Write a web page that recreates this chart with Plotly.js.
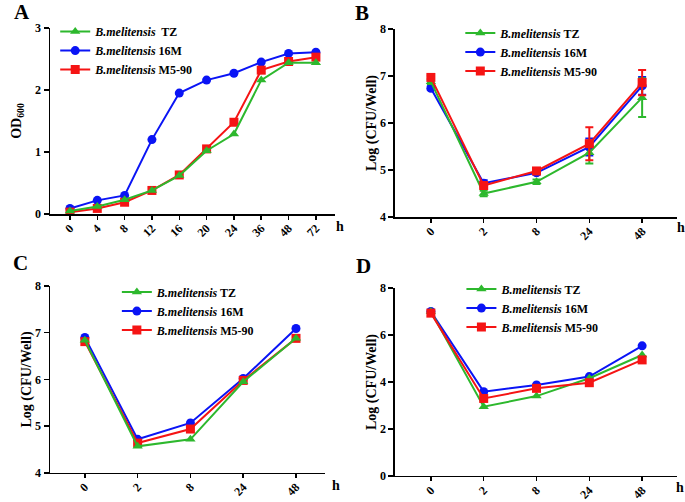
<!DOCTYPE html>
<html>
<head>
<meta charset="utf-8">
<script src="https://cdn.plot.ly/plotly-3.0.1.min.js"></script>
<style>
  html, body { margin: 0; padding: 0; background: #fff; }
  #plotArea { width: 685px; height: 502px; }
</style>
</head>
<body>
<div id="plotArea"></div>
<script>
// strain names + colours
var strainNames = ["<i>B.melitensis</i> TZ", "<i>B.melitensis</i> 16M", "<i>B.melitensis</i> M5-90"];
var strainNamesA = ["<i>B.melitensis</i>  TZ", "<i>B.melitensis</i> 16M", "<i>B.melitensis</i> M5-90"];

// panel A - growth curve (OD600)
var hoursA = ["0", "4", "8", "12", "16", "20", "24", "36", "48", "72"];
var odTZ   = [0.05, 0.12, 0.23, 0.38, 0.62, 1.02, 1.29, 2.16, 2.44, 2.44];
var od16M  = [0.09, 0.22, 0.30, 1.20, 1.95, 2.16, 2.27, 2.45, 2.59, 2.61];
var odM590 = [0.03, 0.09, 0.19, 0.38, 0.63, 1.05, 1.48, 2.32, 2.46, 2.53];

// panels B, C, D - survival (log CFU/well)
var hoursBCD = ["0", "2", "8", "24", "48"];

var bTZ   = [6.88, 4.50, 4.75, 5.37, 6.54];
var b16M  = [6.74, 4.72, 4.94, 5.49, 6.79];
var bM590 = [6.97, 4.67, 4.98, 5.56, 6.86];
var bErrTZ   = [0.05, 0.06, 0.05, 0.23, 0.41];
var bErr16M  = [0.04, 0.06, 0.04, 0.18, 0.19];
var bErrM590 = [0.04, 0.05, 0.05, 0.35, 0.27];

var cTZ   = [6.84, 4.57, 4.72, 5.95, 6.88];
var c16M  = [6.90, 4.72, 5.07, 6.02, 7.09];
var cM590 = [6.81, 4.64, 4.94, 5.98, 6.88];

var dTZ   = [7.00, 2.95, 3.40, 4.16, 5.15];
var d16M  = [7.00, 3.59, 3.87, 4.23, 5.54];
var dM590 = [6.93, 3.30, 3.73, 3.97, 4.94];

var green = "#2DB82D", blue = "#0A14F5", red = "#F51414";
var serif = "Liberation Serif, Times New Roman, serif";

function line(x, y, name, color, symbol, xa, ya, leg, rank, err) {
    var t = {
        x: x, y: y, name: name,
        xaxis: xa, yaxis: ya, legend: leg, legendrank: rank,
        type: "scatter", mode: "lines+markers",
        line: {color: color, width: 2},
        marker: {color: color, symbol: symbol, size: 9}
    };
    if (err) {
        t.error_y = {type: "data", array: err, visible: true, color: color, thickness: 2, width: 4};
    }
    return t;
}

var data = [
    // draw order: blue, red, green on top
    line(hoursA, od16M, strainNamesA[1], blue, "circle", "x", "y", "legend", 2),
    line(hoursA, odM590, strainNamesA[2], red, "square", "x", "y", "legend", 3),
    line(hoursA, odTZ, strainNamesA[0], green, "triangle-up", "x", "y", "legend", 1),

    line(hoursBCD, b16M, strainNames[1], blue, "circle", "x2", "y2", "legend2", 2, bErr16M),
    line(hoursBCD, bTZ, strainNames[0], green, "triangle-up", "x2", "y2", "legend2", 1, bErrTZ),
    line(hoursBCD, bM590, strainNames[2], red, "square", "x2", "y2", "legend2", 3, bErrM590),

    line(hoursBCD, c16M, strainNames[1], blue, "circle", "x3", "y3", "legend3", 2),
    line(hoursBCD, cM590, strainNames[2], red, "square", "x3", "y3", "legend3", 3),
    line(hoursBCD, cTZ, strainNames[0], green, "triangle-up", "x3", "y3", "legend3", 1),

    line(hoursBCD, d16M, strainNames[1], blue, "circle", "x4", "y4", "legend4", 2),
    line(hoursBCD, dTZ, strainNames[0], green, "triangle-up", "x4", "y4", "legend4", 1),
    line(hoursBCD, dM590, strainNames[2], red, "square", "x4", "y4", "legend4", 3)
];

var tickFont = {family: serif, size: 12, color: "#000", weight: "bold"};
var titleFont = {family: serif, size: 14, color: "#000", weight: "bold"};

function xAxis(domain, range, anchor) {
    return {
        type: "category", domain: domain, range: range, anchor: anchor,
        showline: true, linecolor: "#000", linewidth: 1.5,
        ticks: "outside", ticklen: 4, tickwidth: 1.5, tickcolor: "#000",
        tickangle: -45, tickfont: tickFont, ticklabelstandoff: -3,
        showgrid: false, zeroline: false
    };
}
function yAxis(domain, range, dtick, title, anchor, standoff) {
    return {
        domain: domain, range: range, dtick: dtick, anchor: anchor,
        showline: true, linecolor: "#000", linewidth: 1.5,
        ticks: "outside", ticklen: 5, tickwidth: 1.5, tickcolor: "#000",
        tickfont: tickFont, title: {text: title, font: titleFont, standoff: standoff},
        showgrid: false, zeroline: false
    };
}
function legendBox(x, y) {
    return {
        x: x, y: y, xanchor: "left", yanchor: "top",
        bgcolor: "rgba(0,0,0,0)", borderwidth: 0,
        font: {family: serif, size: 12, color: "#000", weight: "bold"},
        traceorder: "normal", itemwidth: 30
    };
}

var logTitle = "Log (CFU/Well)";

var layout = {
    width: 685, height: 502,
    margin: {l: 0, r: 0, t: 0, b: 0},
    paper_bgcolor: "#fff", plot_bgcolor: "#fff",
    font: {family: serif, color: "#000"},
    xaxis:  xAxis([0.0730, 0.4891], [-0.73, 9.70], "y"),
    yaxis:  yAxis([0.5737, 0.9442], [0, 3], 1, "OD<sub>600</sub>", "x", 10),
    xaxis2: xAxis([0.5766, 0.9883], [-0.68, 4.66], "y2"),
    yaxis2: yAxis([0.5677, 0.9422], [4, 8], 1, logTitle, "x2", 0),
    xaxis3: xAxis([0.0730, 0.4745], [-0.66, 4.55], "y3"),
    yaxis3: yAxis([0.0578, 0.4303], [4, 8], 1, logTitle, "x3", 0),
    xaxis4: xAxis([0.5766, 0.9883], [-0.68, 4.66], "y4"),
    yaxis4: yAxis([0.0518, 0.4263], [0, 8], 2, logTitle, "x4", 0),
    legend:  legendBox(0.0806, 0.966),
    legend2: legendBox(0.672, 0.963),
    legend3: legendBox(0.1706, 0.447),
    legend4: legendBox(0.6736, 0.453),
    showlegend: true,
    annotations: [
        {text: "A", x: 22, y: 12},
        {text: "B", x: 362, y: 13},
        {text: "C", x: 20, y: 263},
        {text: "D", x: 363, y: 266}
    ].map(function (a) {
        return {text: a.text, xref: "paper", yref: "paper", x: a.x / 685, y: 1 - a.y / 502,
                xanchor: "center", yanchor: "middle",
                showarrow: false, font: {family: serif, size: 21, color: "#000", weight: "bold"}};
    }).concat([
        {x: 340, y: 226}, {x: 681, y: 227}, {x: 336, y: 485}, {x: 680, y: 487}
    ].map(function (h) {
        return {text: "h", xref: "paper", yref: "paper", x: h.x / 685, y: 1 - h.y / 502,
                xanchor: "center", yanchor: "middle",
                showarrow: false, font: {family: serif, size: 14, color: "#000", weight: "bold"}};
    }))
};

Plotly.newPlot("plotArea", data, layout, {staticPlot: true});
</script>
</body>
</html>
